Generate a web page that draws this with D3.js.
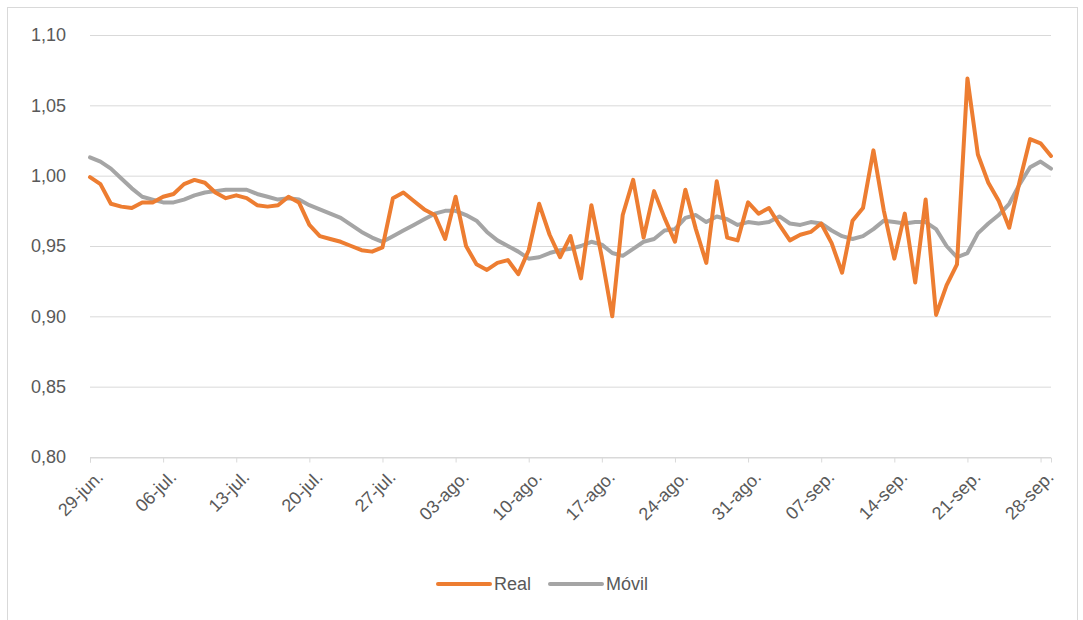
<!DOCTYPE html>
<html>
<head>
<meta charset="utf-8">
<title>Real vs Móvil</title>
<style>
	body{margin:0;background:#fff;}
	svg{display:block;font-family:"Liberation Sans",Arial,sans-serif;}
</style>
<script src="https://cdn.jsdelivr.net/npm/d3@7"></script>
</head>
<body>
<svg id="chart" width="1083" height="620"></svg>
<script>
	// first day of the series, one value per day
	var startDate = new Date(2020, 5, 29);

	var real = [0.999,0.994,0.980,0.978,0.977,0.981,0.981,0.985,0.987,0.994,
		0.997,0.995,0.988,0.984,0.986,0.984,0.979,0.978,0.979,0.985,
		0.981,0.965,0.957,0.955,0.953,0.950,0.947,0.946,0.949,0.984,
		0.988,0.982,0.976,0.972,0.955,0.985,0.950,0.937,0.933,0.938,
		0.940,0.930,0.947,0.980,0.958,0.942,0.957,0.927,0.979,0.942,
		0.900,0.972,0.997,0.956,0.989,0.970,0.953,0.990,0.962,0.938,
		0.996,0.956,0.954,0.981,0.973,0.977,0.965,0.954,0.958,0.960,
		0.966,0.952,0.931,0.968,0.977,1.018,0.975,0.941,0.973,0.924,
		0.983,0.901,0.922,0.937,1.069,1.015,0.995,0.982,0.963,0.996,
		1.026,1.023,1.014];

	var movil = [1.013,1.010,1.005,0.998,0.991,0.985,0.983,0.981,0.981,0.983,
		0.986,0.988,0.989,0.990,0.990,0.990,0.987,0.985,0.983,0.984,
		0.983,0.979,0.976,0.973,0.970,0.965,0.960,0.956,0.953,0.957,
		0.961,0.965,0.969,0.973,0.975,0.975,0.972,0.968,0.960,0.954,
		0.950,0.946,0.941,0.942,0.945,0.947,0.948,0.950,0.953,0.951,
		0.945,0.943,0.948,0.953,0.955,0.961,0.962,0.970,0.972,0.967,
		0.971,0.969,0.965,0.967,0.966,0.967,0.971,0.966,0.965,0.967,
		0.966,0.961,0.957,0.955,0.957,0.962,0.968,0.967,0.966,0.967,
		0.967,0.962,0.950,0.942,0.945,0.959,0.966,0.972,0.980,0.994,
		1.006,1.010,1.005];

	var yTicks = [0.80,0.85,0.90,0.95,1.00,1.05,1.10];
	var monthNames = ["ene.","feb.","mar.","abr.","may.","jun.","jul.","ago.","sep.","oct.","nov.","dic."];
	var seriesNames = ["Real","Móvil"];
	var seriesColors = ["#ED7D31","#A5A5A5"];

	var svg = d3.select("#chart");

	// chart area border
	svg.append("rect").attr("x",7.5).attr("y",7.5).attr("width",1070).attr("height",640)
		.attr("fill","none").attr("stroke","#d9d9d9");

	var dates = real.map(function(d,i){ return d3.timeDay.offset(startDate, i); });

	var x = d3.scaleTime()
		.domain([dates[0], dates[dates.length-1]])
		.range([90, 1051]);
	var y = d3.scaleLinear().domain([0.80, 1.10]).range([457, 35]);

	// gridlines
	svg.append("g").selectAll("line").data(yTicks).enter().append("line")
		.attr("x1",90).attr("x2",1051)
		.attr("y1",function(d){ return y(d)+0.5; }).attr("y2",function(d){ return y(d)+0.5; })
		.attr("stroke","#d9d9d9").attr("stroke-width",1);

	// y labels
	var yAxis = d3.axisLeft(y).tickValues(yTicks).tickSize(0).tickPadding(24)
		.tickFormat(function(d){ return d3.format(".2f")(d).replace(".", ","); });
	var gy = svg.append("g").attr("transform","translate(90,0)").call(yAxis);
	gy.select(".domain").remove();
	gy.selectAll("text").attr("fill","#595959").style("font-size","18px")
		.style("font-family","'Liberation Sans',Arial,sans-serif");

	// x axis
	var tickDates = d3.range(0, dates.length, 7).map(function(i){ return dates[i]; });
	var xAxis = d3.axisBottom(x).tickValues(tickDates).tickSize(5).tickPadding(4)
		.tickFormat(function(d){
			return d3.format("02")(d.getDate()) + "-" + monthNames[d.getMonth()];
		});
	var gx = svg.append("g").attr("transform","translate(0,457.5)").call(xAxis);
	gx.select(".domain").attr("stroke","#d9d9d9");
	gx.selectAll(".tick line").attr("stroke","#d9d9d9");
	gx.selectAll("text").attr("fill","#595959").style("font-size","18px")
		.style("font-family","'Liberation Sans',Arial,sans-serif")
		.attr("text-anchor","end")
		.attr("dy","0.35em")
		.attr("transform","translate(3,10) rotate(-45)");

	// lines
	var line = d3.line()
		.x(function(d,i){ return x(dates[i]); })
		.y(function(d){ return y(d); });

	[movil, real].forEach(function(s, k){
		var idx = k==0 ? 1 : 0;
		svg.append("path").datum(s)
			.attr("d", line)
			.attr("fill","none")
			.attr("stroke", seriesColors[idx])
			.attr("stroke-width", 4)
			.attr("stroke-linejoin","round")
			.attr("stroke-linecap","round");
	});

	// legend
	var legend = svg.append("g").attr("transform","translate(438,584)");
	var legendX = [0, 112];
	seriesNames.forEach(function(name, i){
		var g = legend.append("g").attr("transform","translate("+legendX[i]+",0)");
		g.append("line").attr("x1",0).attr("x2",52).attr("y1",0).attr("y2",0)
			.attr("stroke",seriesColors[i]).attr("stroke-width",4).attr("stroke-linecap","round");
		g.append("text").attr("x",56).attr("y",0).attr("dy","0.35em")
			.attr("fill","#595959").style("font-size","18px").text(name);
	});
</script>
</body>
</html>
